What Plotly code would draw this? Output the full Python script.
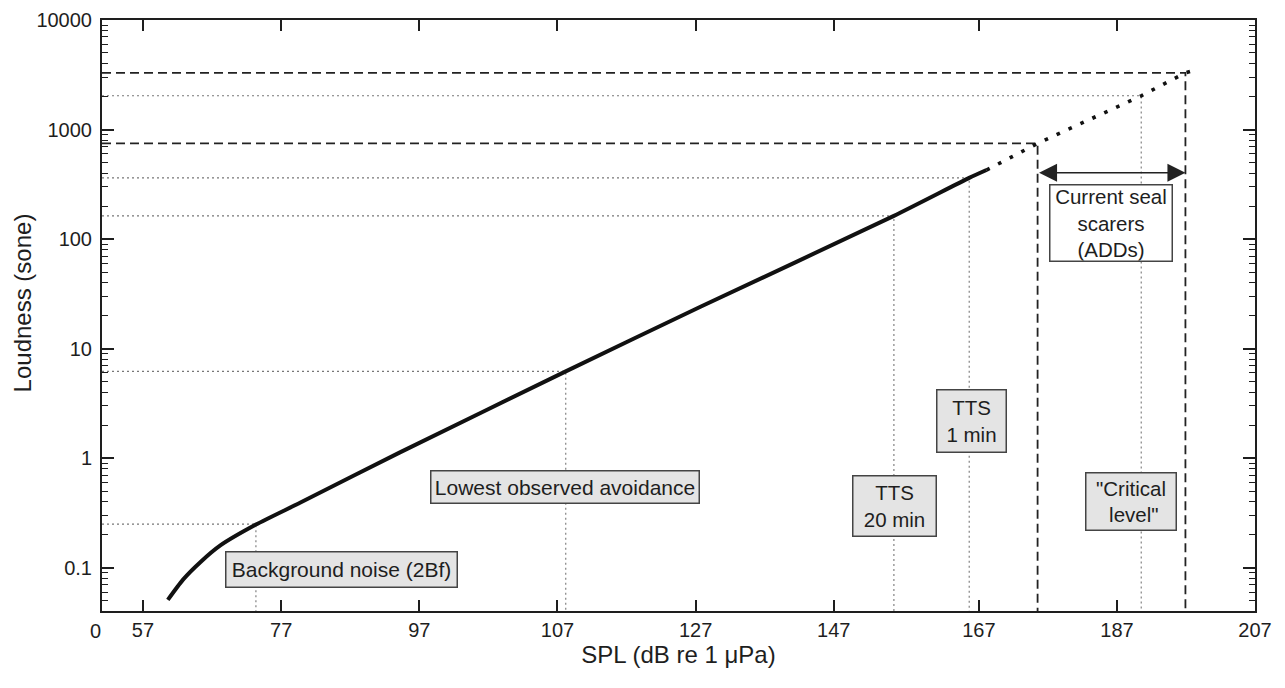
import plotly.graph_objects as go
import math

# ---------------- data ----------------
# main loudness curve (x in axis units, y in sone)
curve_spl = [50.6, 52.8, 55.3, 58.2, 63.35, 69.8, 84.2, 108.2, 127.7, 155.7, 166.6, 169.1]
curve_sone = [0.051, 0.078, 0.1125, 0.160, 0.248, 0.394, 1.13, 6.2, 24.1, 163, 362, 427]
# extrapolated (dotted) part
extrap_spl = [169.1, 176.5, 191.5, 197.9, 199.7]
extrap_sone = [427, 747, 2033, 3297, 3564]

# reference levels
ref_names = ["bg", "avoid", "tts20", "tts1", "add_low", "critical", "add_high"]
ref_spl = [63.35, 108.2, 155.7, 166.6, 176.5, 191.5, 197.9]
ref_sone = [0.25, 6.2, 163, 362, 747, 2033, 3297]
ref_style = ["dot", "dot", "dot", "dot", "dash", "dot", "dash"]

# axis ticks
x_min, x_max = 41.07, 207.97
x_origin_label = "0"
x_tickvals = [47, 67, 87, 107, 127, 147, 168, 188, 207.97]
x_ticktext = ["57", "77", "97", "107", "127", "147", "167", "187", "207"]
y_min, y_max = 0.0403, 10000
y_tickvals = [0.1, 1, 10, 100, 1000, 10000]
y_ticktext = ["0.1", "1", "10", "100", "1000", "10000"]

# label texts
label_texts = ["Background noise (2Bf)", "Lowest observed avoidance", "TTS<br>20 min",
               "TTS<br>1 min", "Current seal<br>scarers<br>(ADDs)", "\"Critical<br> level\""]
arrow_y = 403
x_title = "SPL (dB re 1 μPa)"
y_title = "Loudness (sone)"

# ---------------- layout of labels (position x, y in sone, box w, h, fill) ----------------
label_layout = [
    (75.8, 0.0964, 230, 34, "#e4e4e4"),
    (108.14, 0.55, 267, 31, "#e4e4e4"),
    (155.73, 0.363, 82, 59, "#e4e4e4"),
    (166.9, 2.19, 68, 61, "#e4e4e4"),
    (187.17, 139.6, 121, 75, "#ffffff"),
    (189.95, 0.403, 89, 56, "#e4e4e4"),
]

FONT = "Liberation Sans, Arial, Helvetica, sans-serif"
INK = "#1e1e1e"

fig = go.Figure()

# reference lines
for name, xv, yv, st in zip(ref_names, ref_spl, ref_sone, ref_style):
    if st == "dash":
        line = dict(color="#222222", width=1.8, dash="9px,5px")
    else:
        line = dict(color="#777777", width=1.1, dash="2px,3px")
    fig.add_trace(go.Scatter(x=[x_min, xv, xv], y=[yv, yv, y_min], mode="lines",
                             line=line, hoverinfo="skip", showlegend=False))

# extrapolated dotted curve
fig.add_trace(go.Scatter(x=extrap_spl, y=extrap_sone, mode="lines",
                         line=dict(color="#111111", width=3.6, dash="3.6px,9.5px"),
                         showlegend=False))
# main curve
fig.add_trace(go.Scatter(x=curve_spl, y=curve_sone, mode="lines",
                         line=dict(color="#111111", width=4, shape="spline", smoothing=0.6),
                         showlegend=False))

annotations = []
for text, (xv, yv, w, h, bg) in zip(label_texts, label_layout):
    annotations.append(dict(x=xv, y=math.log10(yv), xref="x", yref="y", text=text,
                            showarrow=False, align="center", valign="middle",
                            width=w, height=h,
                            font=dict(family=FONT, size=21 if "<br>" not in text else 20.5, color=INK),
                            bgcolor=bg, bordercolor="#444444", borderwidth=1.5,
                            borderpad=0))
# double arrow for ADD range
annotations.append(dict(x=ref_spl[6], y=math.log10(arrow_y), ax=ref_spl[4], ay=math.log10(arrow_y),
                        xref="x", yref="y", axref="x", ayref="y", text="",
                        showarrow=True, arrowhead=2, startarrowhead=2, arrowside="end+start",
                        arrowsize=2.4, startarrowsize=2.4, arrowwidth=1.5, arrowcolor="#222222",
                        standoff=0, startstandoff=0))
# y axis title (placed as in the reference, slightly above centre)
annotations.append(dict(text=y_title, xref="paper", yref="paper", x=0, y=0.521,
                        xanchor="center", yanchor="middle", xshift=-79.7, textangle=-90,
                        showarrow=False, font=dict(family=FONT, size=24, color=INK)))
# the "0" origin label sits just left of the frame
annotations.append(dict(text=x_origin_label, xref="paper", yref="paper", x=0, y=0,
                        xanchor="center", yanchor="middle", xshift=-6.5, yshift=-20,
                        showarrow=False, font=dict(family=FONT, size=20, color=INK)))

# page body has an 8px margin; compensate so the plot frame lands where the reference has it
fig.update_layout(
    width=1269, height=672,
    margin=dict(l=93.7, r=22, t=12, b=69, autoexpand=False),
    paper_bgcolor="white", plot_bgcolor="white",
    font=dict(family=FONT, color=INK),
    annotations=annotations,
    showlegend=False,
)
fig.update_xaxes(
    range=[x_min, x_max], tickvals=x_tickvals, ticktext=x_ticktext,
    ticks="inside", ticklen=11, tickwidth=1.5, tickcolor=INK,
    showline=True, linewidth=2, linecolor=INK, mirror="ticks",
    showgrid=False, zeroline=False, automargin=False,
    tickfont=dict(family=FONT, size=20, color=INK),
    title=dict(text=x_title, font=dict(family=FONT, size=24, color=INK), standoff=0),
)
fig.update_yaxes(
    type="log", range=[math.log10(y_min), math.log10(y_max)],
    tickvals=y_tickvals, ticktext=y_ticktext,
    ticks="inside", ticklen=12, tickwidth=1.5, tickcolor=INK,
    minor=dict(ticks="inside", ticklen=6, tickwidth=1.2, tickcolor=INK, dtick="D1", showgrid=False),
    showline=True, linewidth=2, linecolor=INK, mirror="ticks",
    showgrid=False, zeroline=False, ticklabelstandoff=4, automargin=False,
    tickfont=dict(family=FONT, size=20, color=INK),
)

fig.write_html("out.html")
